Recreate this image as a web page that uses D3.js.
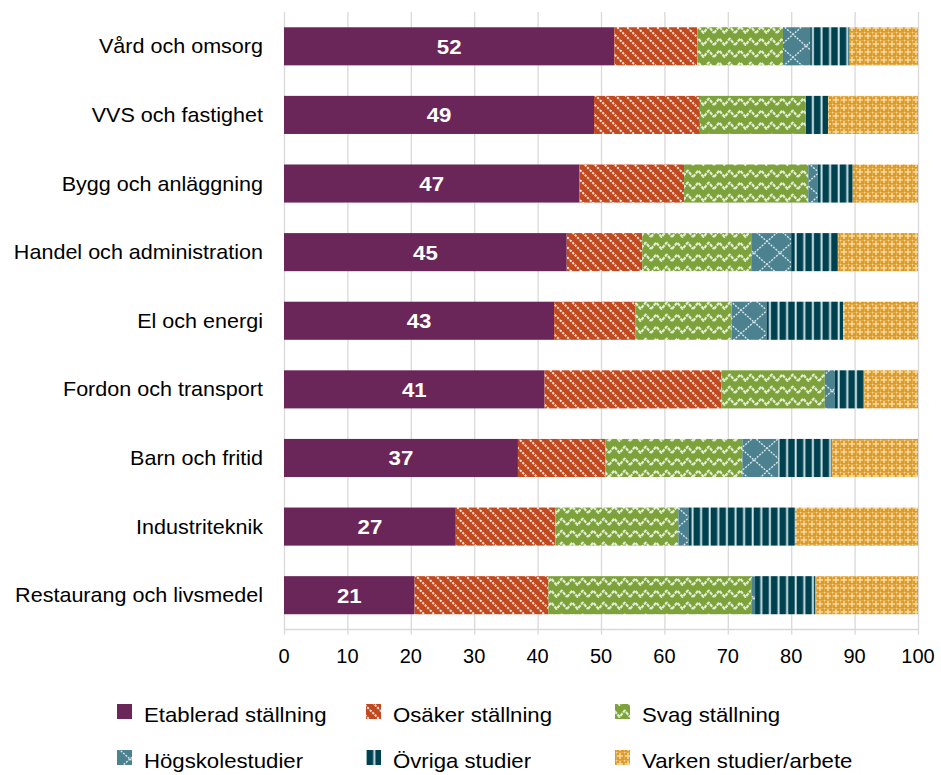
<!DOCTYPE html>
<html>
<head>
<meta charset="utf-8">
<script src="https://cdn.jsdelivr.net/npm/d3@7"></script>
<style>
  body { margin: 0; background: #fff; }
  svg { display: block; font-family: "Liberation Sans", Arial, sans-serif; }
</style>
</head>
<body>
<svg id="chart" width="941" height="775"></svg>
<script>
const categories = [
  "Vård och omsorg", "VVS och fastighet", "Bygg och anläggning",
  "Handel och administration", "El och energi", "Fordon och transport",
  "Barn och fritid", "Industriteknik", "Restaurang och livsmedel"
];
const seriesNames = [
  "Etablerad ställning", "Osäker ställning", "Svag ställning",
  "Högskolestudier", "Övriga studier", "Varken studier/arbete"
];
const etablerad = [52.1, 48.9, 46.6, 44.6, 42.6, 41.1, 36.9, 27.1, 20.6];
const osaker    = [13.1, 16.7, 16.5, 11.9, 12.8, 27.9, 13.8, 15.7, 21.1];
const svag      = [13.5, 16.7, 19.6, 17.2, 15.2, 16.3, 21.6, 19.4, 32.0];
const hogskola  = [ 4.3,  0.0,  1.5,  6.3,  5.5,  1.6,  5.7,  1.6,  0.6];
const ovriga    = [ 6.2,  3.5,  5.5,  7.4, 12.1,  4.6,  8.4, 16.8,  9.5];
const varken    = [10.8, 14.2, 10.3, 12.6, 11.8,  8.5, 13.6, 19.4, 16.2];
const xTicks = [0, 10, 20, 30, 40, 50, 60, 70, 80, 90, 100];

(function () {
const seriesData = [etablerad, osaker, svag, hogskola, ovriga, varken];
const baseColors = ["#6A2658", "#C0491F", "#7DA23B", "#4C8190", "#00414F", "#DE9A22"];

const svg = d3.select("#chart");
const defs = svg.append("defs");

function pat(id, w, h, base) {
  const p = defs.append("pattern").attr("id", id).attr("patternUnits", "userSpaceOnUse")
    .attr("width", w).attr("height", h);
  p.append("rect").attr("width", w).attr("height", h).attr("fill", base);
  return p;
}
{
  const p = pat("p1", 10, 10, baseColors[1]);
  [-10, 0, 10].forEach(dx => {
    p.append("line").attr("x1", dx).attr("y1", 0).attr("x2", dx + 10).attr("y2", 10)
      .attr("stroke", "#fff").attr("stroke-width", 2).attr("stroke-dasharray", "2.2 1.2")
      .attr("opacity", 0.85);
  });
}
{
  const p = pat("p2", 21, 12, baseColors[2]);
  p.append("path").attr("d", "M0 9 L5.25 2.5 L10.5 9 L15.75 2.5 L21 9")
    .attr("fill", "none").attr("stroke", "#eef4e0").attr("stroke-width", 2.1)
    .attr("stroke-dasharray", "3.5 1").attr("stroke-linejoin", "round").attr("opacity", 0.9);
}
{
  const p = pat("p3", 26, 23, baseColors[3]);
  p.append("path").attr("d", "M0 0 L26 23 M26 0 L0 23")
    .attr("fill", "none").attr("stroke", "#e6f0f2").attr("stroke-width", 1.4)
    .attr("stroke-dasharray", "2 1.2").attr("opacity", 0.9);
}
{
  const p = pat("p4", 8.6, 10, baseColors[4]);
  p.append("rect").attr("x", 3.5).attr("y", 0).attr("width", 2).attr("height", 10)
    .attr("fill", "#cfe4e8");
}
{
  const p = pat("p5", 8, 8, baseColors[5]);
  p.append("path").attr("d", "M4 1 L4 7 M1 4 L7 4").attr("stroke", "#f6dca6")
    .attr("stroke-width", 1.5);
  p.append("rect").attr("x", 0).attr("y", 0).attr("width", 1.2).attr("height", 1.2).attr("fill", "#fbeed2");
  p.append("path").attr("d", "M0 0.5 L8 0.5 M0.5 0 L0.5 8").attr("stroke", "#eac074").attr("stroke-width", 0.8).attr("opacity", 0.6);
}
const fills = [baseColors[0], "url(#p1)", "url(#p2)", "url(#p3)", "url(#p4)", "url(#p5)"];

const pLeft = 284, pRight = 918, pTop = 12, pBottom = 629.5;
const x = d3.scaleLinear().domain([0, 100]).range([pLeft, pRight]);
const y = d3.scaleBand().domain(categories).range([pTop, pBottom]).paddingInner(0.445).paddingOuter(0.2225);

svg.append("g").selectAll("line").data(xTicks).join("line")
  .attr("x1", d => x(d) + 0.5).attr("x2", d => x(d) + 0.5)
  .attr("y1", pTop).attr("y2", pBottom + 5)
  .attr("stroke", "#d9d9d9").attr("stroke-width", 1.3);
svg.append("line").attr("x1", pLeft).attr("x2", pRight + 1).attr("y1", pBottom).attr("y2", pBottom)
  .attr("stroke", "#d9d9d9").attr("stroke-width", 1.3);

const rows = categories.map((c, i) => {
  const o = { cat: c };
  seriesNames.forEach((s, j) => o[s] = seriesData[j][i]);
  return o;
});
const stacked = d3.stack().keys(seriesNames)(rows);

const g = svg.append("g");
stacked.forEach((layer, j) => {
  g.append("g").selectAll("rect").data(layer).join("rect")
    .attr("x", d => x(d[0]))
    .attr("y", d => y(d.data.cat))
    .attr("width", d => Math.max(0, x(d[1]) - x(d[0])))
    .attr("height", y.bandwidth())
    .attr("fill", fills[j]);
});

svg.append("g").selectAll("text").data(categories).join("text")
  .attr("transform", (d, i) => `translate(${x(etablerad[i] / 2)},${y(d) + y.bandwidth() / 2 + 7.5}) scale(1.06,1)`)
  .attr("text-anchor", "middle")
  .attr("fill", "#fff").attr("font-weight", "bold").attr("font-size", 21)
  .text((d, i) => Math.round(etablerad[i]));

svg.append("g").selectAll("text").data(categories).join("text")
  .attr("transform", d => `translate(263,${y(d) + y.bandwidth() / 2 + 7}) scale(1.078,1)`)
  .attr("text-anchor", "end").attr("fill", "#000").attr("font-size", 20)
  .text(d => d);

svg.append("g").selectAll("text").data(xTicks).join("text")
  .attr("x", d => x(d)).attr("y", 663)
  .attr("text-anchor", "middle").attr("fill", "#000").attr("font-size", 20)
  .text(d => d);

const legX = [117, 366, 615];
const legY = [722, 768];
const lg = svg.append("g");
seriesNames.forEach((s, j) => {
  const cx = legX[j % 3], by = legY[Math.floor(j / 3)];
  lg.append("rect").attr("x", cx).attr("y", by - 18).attr("width", 15).attr("height", 15)
    .attr("fill", fills[j]);
  lg.append("text").attr("transform", `translate(${cx + 27},${by}) scale(1.11,1)`)
    .attr("font-size", 20).attr("fill", "#000").text(s);
});
})();
</script>
</body>
</html>
